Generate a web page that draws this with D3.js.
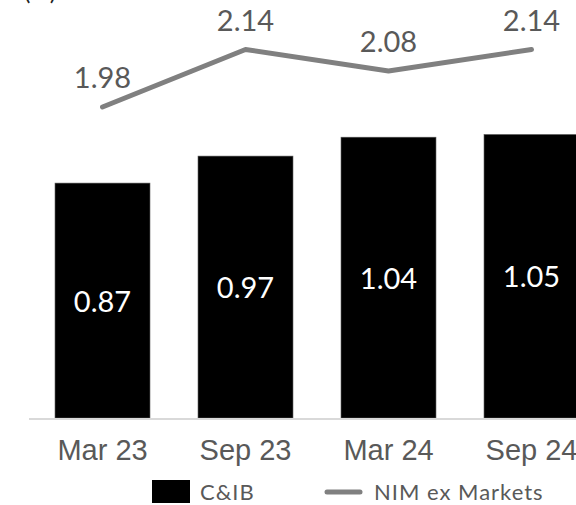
<!DOCTYPE html>
<html><head><meta charset="utf-8">
<script src="https://cdn.jsdelivr.net/npm/d3@7"></script>
<style>
html,body{margin:0;padding:0;background:#fff;overflow:hidden}
svg{display:block;font-family:"Source Sans Pro",Lato,"Noto Sans",sans-serif}
</style></head><body>
<svg id="c" width="576" height="505"></svg>
<script>
const categories = ["Mar 23", "Sep 23", "Mar 24", "Sep 24"];
const cibValues = [0.87, 0.97, 1.04, 1.05];
const nimValues = [1.98, 2.14, 2.08, 2.14];
const seriesNames = ["C&IB", "NIM ex Markets"];
const unitLabel = "(%)";

const svg = d3.select("#c");
const textColor = "#595959";
const lineColor = "#808080";

const x = d3.scaleBand().domain(categories).range([31, 603]).paddingInner(0.336).paddingOuter(0.168);
const yBar = d3.scaleLinear().domain([0, 1]).range([418, 148]);
const yLine = d3.scaleLinear().domain([1.98, 2.14]).range([107, 49.5]);

// unit label (cropped at top, as in the reference)
svg.append("text").attr("x", 24).attr("y", 0).attr("font-size", 24).attr("fill", "#222").text(unitLabel);

// bars
svg.append("g").selectAll("rect").data(cibValues).join("rect")
  .attr("x", (d, i) => x(categories[i]))
  .attr("width", x.bandwidth())
  .attr("y", d => yBar(d))
  .attr("height", d => yBar(0) - yBar(d))
  .attr("fill", "#000")
  .attr("stroke", "#555").attr("stroke-width", 0.6);

// bar labels
svg.append("g").selectAll("text").data(cibValues).join("text")
  .attr("x", (d, i) => x(categories[i]) + x.bandwidth() / 2)
  .attr("y", d => (yBar(d) + yBar(0)) / 2 + 11)
  .attr("text-anchor", "middle").attr("font-size", 29).attr("fill", "#fff")
  .text(d => d.toFixed(2));

// axis
const axis = svg.append("g").attr("transform", `translate(0,${yBar(0)})`)
  .call(d3.axisBottom(x).tickSize(0).tickPadding(21));
axis.select(".domain").attr("stroke", "#d9d9d9").attr("stroke-width", 2).attr("d", "M29,1H576");
axis.selectAll("text").attr("font-size", 29).attr("fill", textColor).attr("font-family", null);

// line
const line = d3.line().x((d, i) => x(categories[i]) + x.bandwidth() / 2).y(d => yLine(d));
svg.append("path").datum(nimValues).attr("d", line)
  .attr("fill", "none").attr("stroke", lineColor).attr("stroke-width", 5)
  .attr("stroke-linecap", "round").attr("stroke-linejoin", "round");

svg.append("g").selectAll("text").data(nimValues).join("text")
  .attr("x", (d, i) => x(categories[i]) + x.bandwidth() / 2)
  .attr("y", d => yLine(d) - 19)
  .attr("text-anchor", "middle").attr("font-size", 29).attr("fill", textColor)
  .text(d => d.toFixed(2));

// legend
const lg = svg.append("g");
lg.append("rect").attr("x", 152).attr("y", 480).attr("width", 38).attr("height", 23).attr("fill", "#000");
lg.append("text").attr("x", 200).attr("y", 500).attr("font-size", 22).attr("letter-spacing", 1)
  .attr("fill", textColor).text(seriesNames[0]);
lg.append("line").attr("x1", 327).attr("x2", 360).attr("y1", 492).attr("y2", 492)
  .attr("stroke", lineColor).attr("stroke-width", 5).attr("stroke-linecap", "round");
lg.append("text").attr("x", 374).attr("y", 500).attr("font-size", 22).attr("letter-spacing", 1)
  .attr("fill", textColor).text(seriesNames[1]);
</script></body></html>
